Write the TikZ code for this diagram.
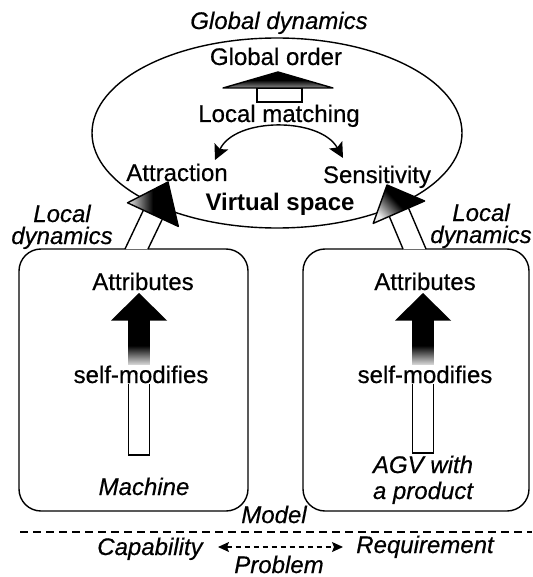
\documentclass[tikz,border=0pt]{standalone}
\usepackage{fontspec}
\setmainfont{Liberation Sans}
\usetikzlibrary{arrows.meta,shapes.geometric}
\tikzset{
  lbl/.style={font=\fontsize{24}{20}\selectfont\addfontfeatures{FakeBold=0.5}, inner sep=0pt, anchor=base},
  ilbl/.style={lbl, font=\fontsize{24}{20}\selectfont\itshape\addfontfeatures{FakeBold=0.5}},
  blbl/.style={lbl, font=\fontsize{24}{20}\selectfont\bfseries},
  ln/.style={line width=1.4pt},
  objbox/.style={ln, draw, rounded corners=22pt, inner sep=0pt},
  bigtip/.tip={Stealth[length=15pt,width=15pt,inset=3pt]},
  smalltip/.tip={Stealth[length=11pt,width=10pt,inset=2pt]},
}
\begin{document}
\begin{tikzpicture}[x=1pt,y=-1pt]
\useasboundingbox (0,0) rectangle (532,577);

% virtual space ellipse
\node[ln, draw, ellipse, minimum width=370pt, minimum height=190pt, inner sep=0pt] (vspace) at (277,133) {};

% object boxes
\node[objbox, minimum width=229pt, minimum height=262pt] (mbox) at (133.5,380) {};
\node[objbox, minimum width=226pt, minimum height=262pt] (abox) at (416,380) {};

% hollow arrow: local matching -> global order
\draw[ln, fill=white] (257,102) rectangle (302,88);
\shade[top color=black, bottom color=black!45, middle color=black]
  (223,88) -- (278,72) -- (333,88) -- cycle;
\draw[ln, line join=round] (223,88) -- (278,72) -- (333,88) -- cycle;

% curved double arrow
\coordinate (cl) at (215,160);
\coordinate (cr) at (343,158);
\draw[ln, bigtip-bigtip] (cl) .. controls (235,117) and (320,117) .. (cr);

% left big hollow arrow (local dynamics)
\fill[white] (125,249) -- (143.4,210.2) -- (162.4,219) -- (148,249) -- cycle;
\draw[ln] (125,249) -- (143.4,210.2);
\draw[ln] (148,249) -- (162.4,219);
\shade[left color=gray!15, right color=black, middle color=black]
  (127.5,202.8) -- (168,182) -- (178.3,226.4) -- cycle;
\draw[ln, line join=round] (127.5,202.8) -- (168,182) -- (178.3,226.4) -- cycle;

% right big hollow arrow (local dynamics)
\fill[white] (403,249) -- (389.3,216.4) -- (408.5,208) -- (426,249) -- cycle;
\draw[ln] (403,249) -- (389.3,216.4);
\draw[ln] (426,249) -- (408.5,208);
\shade[top color=black, bottom color=gray!15, middle color=black, shading angle=-47]
  (373.2,223.4) -- (387,185) -- (424.6,201) -- cycle;
\draw[ln, line join=round] (373.2,223.4) -- (387,185) -- (424.6,201) -- cycle;

% black arrows inside boxes (self-modification)
\foreach \cx/\bot in {139/455, 423/453}{
  \draw[ln, fill=white] (\cx-10.5,320) rectangle (\cx+10.5,\bot);
  \fill[black] (\cx-10.5,320) rectangle (\cx+10.5,346);
  \shade[top color=black, bottom color=white] (\cx-10.5,368) rectangle (\cx+10.5,345.5);
  \fill[black] (\cx-28,320.5) -- (\cx,293) -- (\cx+28,320.5) -- cycle;
}

% texts in ellipse
\node[ilbl] (gdyn) at (279,29) {Global dynamics};
\node[lbl] (gorder) at (276,65) {Global order};
\node[lbl] (lmatch) at (279,122) {Local matching};
\node[lbl] (attr) at (177,181) {Attraction};
\node[lbl] (sens) at (377,183) {Sensitivity};
\node[blbl] (vsl) at (280,210) {Virtual space};

% local dynamics labels (base anchor = last line)
\node[ilbl, align=center, font=\fontsize{24}{22}\selectfont\itshape\addfontfeatures{FakeBold=0.5}] (ldl) at (62,244) {Local\\dynamics};
\node[ilbl, align=center, font=\fontsize{24}{22}\selectfont\itshape\addfontfeatures{FakeBold=0.5}] (ldr) at (481,243) {Local\\dynamics};

% box texts
\node[lbl] (attl) at (143,290) {Attributes};
\node[lbl] (attrr) at (425,290) {Attributes};
\node[lbl, fill=white, inner sep=1pt] (sml) at (141,383) {self-modifies};
\node[lbl, fill=white, inner sep=1pt] (smr) at (425,383) {self-modifies};
\node[ilbl] (mach) at (144,495) {Machine};
\node[ilbl, align=center, font=\fontsize{24}{26}\selectfont\itshape\addfontfeatures{FakeBold=0.5}] (agv) at (423,499) {AGV with\\a product};

% model / problem separation
\node[ilbl] (model) at (274,523) {Model};
\coordinate (dl) at (20,532);
\coordinate (dr) at (532,532);
\draw[ln, dash pattern=on 8pt off 5pt] (dl) -- (dr);
\node[ilbl] (cap) at (150,555) {Capability};
\node[ilbl] (req) at (425,553) {Requirement};
\node[ilbl] (prob) at (279,573) {Problem};
\coordinate (pl) at (218,547);
\coordinate (pr) at (343,547);
\draw[line width=1.1pt, dash pattern=on 5pt off 4pt, smalltip-smalltip] (pl) -- (pr);
\end{tikzpicture}
\end{document}
